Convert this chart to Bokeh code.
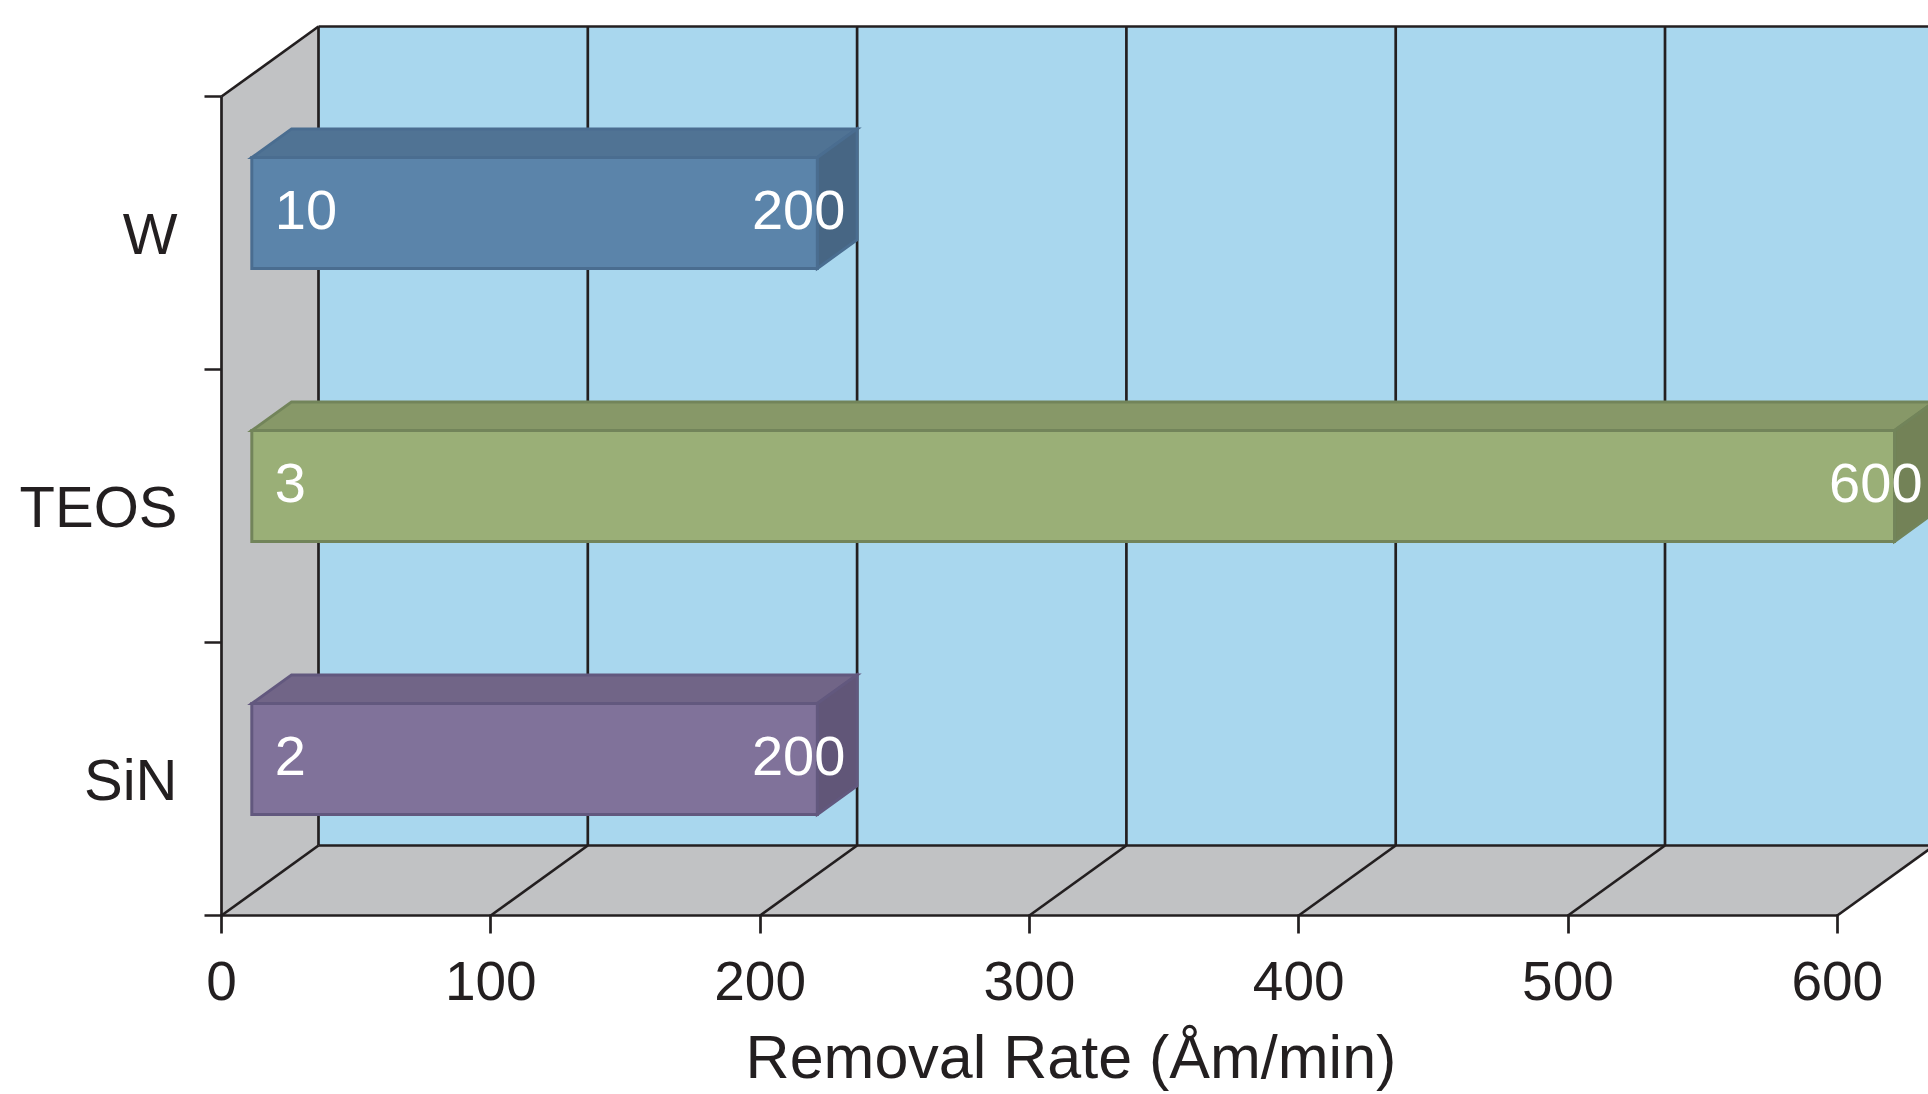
from bokeh.plotting import figure
from bokeh.models import Range1d, FixedTicker, ColumnDataSource
from bokeh.core.properties import value
from bokeh.embed import file_html
from bokeh.resources import INLINE

# ---------------- data ----------------
categories = ["W", "TEOS", "SiN"]
removal_rate = [200, 600, 200]
selectivity = [10, 3, 2]
x_ticks = [0, 100, 200, 300, 400, 500, 600]
x_title = "Removal Rate (Åm/min)"

# ---------------- styles ----------------
front_colors = ["#5b84aa", "#9aaf77", "#80729a"]
top_colors = ["#507394", "#879868", "#716587"]
side_colors = ["#476684", "#738257", "#615678"]
edge_colors = ["#4a6d90", "#72845a", "#62587e"]
INK = "#231f20"
WALL = "#c1c2c4"
BACK = "#a9d7ee"
FONT = "Liberation Sans"

PX_X = 2.693      # screen px per Å/min
PX_Y = 273.0      # screen px per category band
PAD = 8           # px of frame beyond the axis lines
FW, FH = 1715, 903
DEPTH_X = 97 / PX_X
DEPTH_Y = 70 / PX_Y
BAR_FRONT = 0.59  # depth fraction of the bar front face
BAR_START = -10   # bars are drawn from slightly left of the wall
BAR_SHIFT = -0.078
BAR_HALF = 0.203
LW = 2.7

n = len(categories)
pos = [n - 1 - i + 0.5 for i in range(n)]
x_max = x_ticks[-1]

p = figure(frame_width=FW, frame_height=FH,
           x_range=Range1d(-PAD / PX_X, (FW - PAD) / PX_X),
           y_range=Range1d(-PAD / PX_Y, (FH - PAD) / PX_Y),
           output_backend="svg", toolbar_location=None,
           min_border_left=213, min_border_right=0,
           min_border_top=20, min_border_bottom=0)
p.outline_line_color = None
p.grid.visible = False
p.background_fill_color = "white"

# ---- walls / floor ----
DX, DY = DEPTH_X, DEPTH_Y
p.patches(xs=[[0, 0, DX, DX],
              [0, x_max, x_max + DX, DX],
              [DX, x_max + DX, x_max + DX, DX]],
          ys=[[0, n, n + DY, DY],
              [0, 0, DY, DY],
              [DY, DY, n + DY, n + DY]],
          fill_color=[WALL, WALL, BACK], line_color=None)

lxs, lys = [], []
for t in x_ticks:
    lxs.append([t + DX, t + DX]); lys.append([DY, n + DY])
    lxs.append([t, t + DX]); lys.append([0, DY])
lxs += [[DX, x_max + DX], [DX, x_max + DX], [0, DX], [0, 0], [0, x_max]]
lys += [[DY, DY], [n + DY, n + DY], [n, n + DY], [0, n], [0, 0]]
p.multi_line(xs=lxs, ys=lys, line_color=INK, line_width=LW)

# ---- bars ----
fx, fy = BAR_FRONT * DX, BAR_FRONT * DY
bx, by = DX, DY
pxs, pys, pfill, pline = [], [], [], []
lab_l = dict(x=[], y=[], t=[])
lab_r = dict(x=[], y=[], t=[])
for i in range(n):
    c = pos[i] + BAR_SHIFT
    y0, y1 = c - BAR_HALF, c + BAR_HALF
    x0, x1 = BAR_START, removal_rate[i]
    # top
    pxs.append([x0 + fx, x1 + fx, x1 + bx, x0 + bx])
    pys.append([y1 + fy, y1 + fy, y1 + by, y1 + by])
    pfill.append(top_colors[i]); pline.append(edge_colors[i])
    # side
    pxs.append([x1 + fx, x1 + bx, x1 + bx, x1 + fx])
    pys.append([y0 + fy, y0 + by, y1 + by, y1 + fy])
    pfill.append(side_colors[i]); pline.append(edge_colors[i])
    # front
    pxs.append([x0 + fx, x1 + fx, x1 + fx, x0 + fx])
    pys.append([y0 + fy, y0 + fy, y1 + fy, y1 + fy])
    pfill.append(front_colors[i]); pline.append(edge_colors[i])
    lab_l["x"].append(x0 + fx); lab_l["y"].append(c + fy); lab_l["t"].append(str(selectivity[i]))
    lab_r["x"].append(x1 + fx); lab_r["y"].append(c + fy); lab_r["t"].append(str(removal_rate[i]))

p.patches(xs=pxs, ys=pys, fill_color=pfill, line_color=pline, line_width=3, line_join="miter")

p.text(x="x", y="y", text="t", source=ColumnDataSource(lab_l), x_offset=23, y_offset=-3,
       text_align="left", text_baseline="middle", text_color="white",
       text_font=value(FONT), text_font_size="56px")
p.text(x="x", y="y", text="t", source=ColumnDataSource(lab_r), x_offset=28, y_offset=-3,
       text_align="right", text_baseline="middle", text_color="white",
       text_font=value(FONT), text_font_size="56px")

# ---- axes ----
xa = p.xaxis[0]
xa.ticker = FixedTicker(ticks=x_ticks, minor_ticks=[])
xa.axis_line_color = None
xa.major_tick_in = 9
xa.major_tick_out = 10
xa.major_tick_line_color = INK
xa.major_tick_line_width = LW
xa.minor_tick_line_color = None
xa.major_label_standoff = 28
xa.major_label_text_font = FONT
xa.major_label_text_font_size = "55px"
xa.major_label_text_color = INK
xa.axis_label = x_title
xa.axis_label_text_font = FONT
xa.axis_label_text_font_size = "61px"
xa.axis_label_text_font_style = "normal"
xa.axis_label_text_color = INK
xa.axis_label_standoff = 20

ya = p.yaxis[0]
ya.ticker = FixedTicker(ticks=pos, minor_ticks=list(range(n + 1)))
ya.major_label_overrides = {pos[i]: categories[i] for i in range(n)}
ya.axis_line_color = None
ya.major_tick_line_color = None
ya.major_tick_in = 0
ya.major_tick_out = 0
ya.minor_tick_line_color = INK
ya.minor_tick_line_width = LW
ya.minor_tick_in = 8
ya.minor_tick_out = 9
ya.major_label_standoff = 27
ya.major_label_text_font = FONT
ya.major_label_text_font_size = "58px"
ya.major_label_text_color = INK

open("out.html", "w").write(file_html(p, INLINE))
